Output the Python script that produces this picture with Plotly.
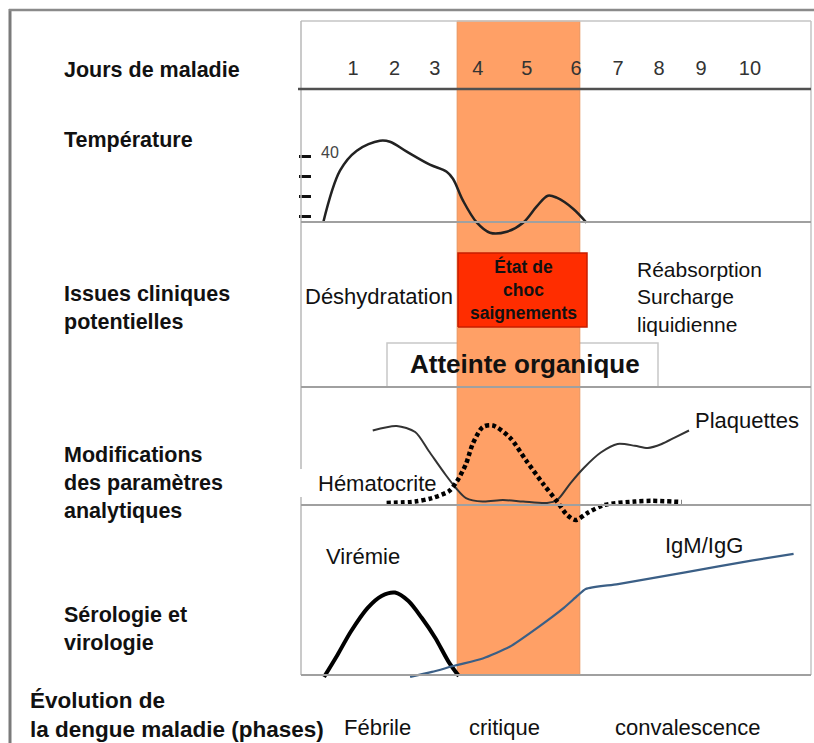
import plotly.graph_objects as go

W, H = 814, 743

# ---------------- data ----------------
day_labels = ["1", "2", "3", "4", "5", "6", "7", "8", "9", "10"]
day_label_pos = [1.0, 1.99, 2.95, 3.97, 5.14, 6.31, 7.31, 8.29, 9.29, 10.45]

critical_phase = [3.48, 6.40]          # start / end of the critical phase (days)

temp_ticks = [37, 38, 39, 40]
temp_day = [0.29, 0.69, 1.09, 1.64, 1.88, 2.28, 2.83, 3.23, 3.38, 3.62, 3.95,
            4.26, 4.66, 5.05, 5.37, 5.64, 5.85, 6.24, 6.56]
temp_c = [36.7, 39.3, 40.3, 40.8, 40.75, 40.25, 39.6, 39.25, 38.9, 37.8, 36.7,
          36.2, 36.25, 36.7, 37.5, 38.05, 37.95, 37.4, 36.7]

plaq_day = [1.47, 2.04, 2.48, 2.80, 3.20, 3.45, 3.69, 4.09, 4.57, 5.05, 5.62,
            5.86, 6.18, 6.50, 6.90, 7.30, 7.71, 8.02, 8.35, 8.67, 9.00]
plaq_val = [62.8, 66.7, 61.5, 45.5, 25.2, 13.7, 5.1, 2.1, 3.4, 2.1, 0.9,
            3.4, 17.9, 31.0, 44.0, 51.3, 49.8, 47.9, 51.3, 57.0, 62.8]

hct_day = [1.80, 2.48, 2.88, 3.29, 3.48, 3.69, 3.85, 4.09, 4.33, 4.73, 5.13,
           5.54, 5.86, 6.10, 6.30, 6.58, 6.98, 7.71, 8.11, 8.83]
hct_val = [0.9, 2.1, 5.1, 11.1, 19.7, 34.2, 51.3, 65.8, 67.1, 57.0, 36.8,
           16.6, 2.1, -9.4, -13.7, -7.7, -0.9, 2.1, 2.7, 1.7]

vir_day = [0.31, 0.63, 0.95, 1.35, 1.68, 2.00, 2.32, 2.64, 2.96, 3.28, 3.52]
vir_val = [-1.2, 11.8, 25.6, 39.5, 46.5, 48.5, 43.5, 33.5, 21.8, 7.6, -0.6]

ig_day = [2.36, 2.88, 3.45, 4.09, 4.73, 5.38, 6.02, 6.34, 6.54, 7.31, 8.91, 10.52, 11.49]
ig_val = [-1.2, 1.8, 5.7, 9.7, 16.6, 27.6, 39.5, 46.5, 50.6, 53.5, 60.4, 67.4, 71.3]

# ---------------- helpers (layout geometry) ----------------
X0, DX = 311.0, 42.0           # pixel of day 0, pixels per day


def PX(x):
    return x / W


def PY(y):
    return 1 - y / H


def DAY(px):
    return (px - X0) / DX


def TEMP(py):
    return 40 - (py - 156.7) / 20.0


FONT = "Liberation Sans, Arial, Helvetica, sans-serif"
NARROW = "Liberation Sans Narrow, Arial Narrow, Liberation Sans, sans-serif"

fig = go.Figure()


def rect_trace(x0, x1, y0, y1, fill, line_color, line_width):
    """closed rectangle in the background subplot (x in days, y in figure fraction)"""
    xs = [x0, x1, x1, x0, x0]
    ys = [y0, y0, y1, y1, y0]
    fig.add_trace(go.Scatter(
        x=xs, y=ys, mode="lines", xaxis="x", yaxis="y",
        fill="toself" if fill else None, fillcolor=fill,
        line=dict(color=line_color, width=line_width),
        hoverinfo="skip", showlegend=False))


# background subplot: box, critical band, boxes
rect_trace(DAY(387), DAY(658), PY(387), PY(343), None, "#c8c8c8", 1.5)
rect_trace(critical_phase[0], critical_phase[1], PY(675), PY(21), "#ffa066", "#e8935c", 1)
rect_trace(DAY(299), DAY(442), PY(497), PY(469), "white", "rgba(0,0,0,0)", 0)
rect_trace(DAY(458), DAY(587), PY(327), PY(253), "#ff2d00", "#c81e00", 1.5)

# days row (numbers as text marks on the day axis)
fig.add_trace(go.Scatter(x=day_label_pos, y=[PY(70)] * len(day_labels), text=day_labels,
                         mode="text", textposition="middle center",
                         textfont=dict(family=NARROW, size=20, color="#333"),
                         xaxis="x", yaxis="y", hoverinfo="skip", showlegend=False))

# temperature
fig.add_trace(go.Scatter(x=temp_day, y=temp_c, mode="lines", yaxis="y2",
                         line=dict(color="#222", width=2.5, shape="spline", smoothing=1),
                         hoverinfo="skip", showlegend=False))

# analytics
fig.add_trace(go.Scatter(x=plaq_day, y=plaq_val, mode="lines", yaxis="y3",
                         line=dict(color="#333", width=2, shape="spline", smoothing=0.8),
                         hoverinfo="skip", showlegend=False))
fig.add_trace(go.Scatter(x=hct_day, y=hct_val, mode="lines", yaxis="y3",
                         line=dict(color="#000", width=4.5, shape="spline", smoothing=0.8,
                                   dash="4px,3px"),
                         hoverinfo="skip", showlegend=False))

# serology
fig.add_trace(go.Scatter(x=vir_day, y=vir_val, mode="lines", yaxis="y4",
                         line=dict(color="#000", width=4, shape="spline", smoothing=0.8),
                         hoverinfo="skip", showlegend=False))
fig.add_trace(go.Scatter(x=ig_day, y=ig_val, mode="lines", yaxis="y4",
                         line=dict(color="#3b5f86", width=2.2, shape="spline", smoothing=0.6),
                         hoverinfo="skip", showlegend=False))

shapes = []


def hline(y, x0, x1, color, width, layer="above"):
    shapes.append(dict(type="line", xref="paper", yref="paper", x0=PX(x0), x1=PX(x1),
                       y0=PY(y), y1=PY(y), line=dict(color=color, width=width), layer=layer))


def vline(x, y0, y1, color, width, layer="above"):
    shapes.append(dict(type="line", xref="paper", yref="paper", x0=PX(x), x1=PX(x),
                       y0=PY(y0), y1=PY(y1), line=dict(color=color, width=width), layer=layer))


# outer frame
vline(10, 9, 743, "#7a7a7a", 3)
hline(10, 9, 814, "#8a8a8a", 2.5)

# grid
hline(21, 301, 811, "#c4c4c4", 1.5)
vline(301, 21, 469, "#b8b8b8", 1.5)
vline(301, 497, 675, "#b8b8b8", 1.5)
vline(811, 21, 675, "#c4c4c4", 1.5)
for yy in (222, 387, 505, 675):
    hline(yy, 301, 811, "#a0a0a0", 2)
hline(89, 298, 811, "#505050", 2.5)

annotations = []


def txt(s, x, y, size, bold=False, anchor="left", color="#111", family=FONT):
    lines = s.split("\n")
    if bold:
        lines = [f"<b>{ln}</b>" for ln in lines]
    annotations.append(dict(text="<br>".join(lines), x=PX(x), y=PY(y),
                            xref="paper", yref="paper", xanchor=anchor, yanchor="middle",
                            align=anchor if anchor != "center" else "center",
                            showarrow=False, borderpad=0,
                            font=dict(family=family, size=size, color=color)))


# left row titles
txt("Jours de maladie", 63, 70, 21.5, bold=True)
txt("Température", 63, 140, 21.5, bold=True)
txt("Issues cliniques\npotentielles", 63, 307.5, 21.5, bold=True)
txt("Modifications\ndes paramètres\nanalytiques", 63, 483, 21.5, bold=True)
txt("Sérologie et\nvirologie", 63, 628.5, 21.5, bold=True)
txt("Évolution de\nla dengue maladie (phases)", 29, 715, 22.5, bold=True)

# phases
txt("Fébrile", 377, 727, 22, anchor="center")
txt("critique", 504, 727, 22, anchor="center")
txt("convalescence", 688, 727, 22, anchor="center")

# clinical issues
txt("Déshydratation", 379, 296, 22, anchor="center")
txt("Réabsorption\nSurcharge\nliquidienne", 636, 297, 21)
txt("État de\nchoc\nsaignements", 523, 289, 17.5, bold=True, anchor="center")
txt("Atteinte organique", 525, 364, 26, bold=True, anchor="center")

# curve labels
txt("40", 330, 152, 16, anchor="center", color="#444")
txt("Plaquettes", 694, 421, 22)
txt("Hématocrite", 317, 483, 22)
txt("Virémie", 363, 556, 22, anchor="center")
txt("IgM/IgG", 704, 545, 22, anchor="center")

fig.update_layout(
    width=W, height=H, margin=dict(l=0, r=0, t=0, b=0),
    paper_bgcolor="white", plot_bgcolor="rgba(0,0,0,0)",
    showlegend=False, shapes=shapes, annotations=annotations,
    xaxis=dict(domain=[0, 1], range=[DAY(0), DAY(W)], visible=False,
               anchor="y", fixedrange=True),
    yaxis=dict(domain=[0, 1], range=[0, 1], visible=False, anchor="x", fixedrange=True),
    yaxis2=dict(domain=[PY(250), PY(89)], range=[TEMP(250), TEMP(89)], anchor="free",
                position=PX(298), ticks="inside", ticklen=12, tickwidth=3, tickcolor="#111",
                tickvals=temp_ticks, showticklabels=False, showline=False, showgrid=False,
                zeroline=False, fixedrange=True),
    yaxis3=dict(domain=[PY(530), PY(387)], range=[(504 - 530) / 1.17, 100], visible=False,
                anchor="x", fixedrange=True),
    yaxis4=dict(domain=[PY(685), PY(505)], range=[(675 - 685) / 1.70, 100], visible=False,
                anchor="x", fixedrange=True),
)

fig.write_html("out.html", config={"displayModeBar": False},
               post_script="document.body.style.margin='0';document.body.style.overflow='hidden';")
